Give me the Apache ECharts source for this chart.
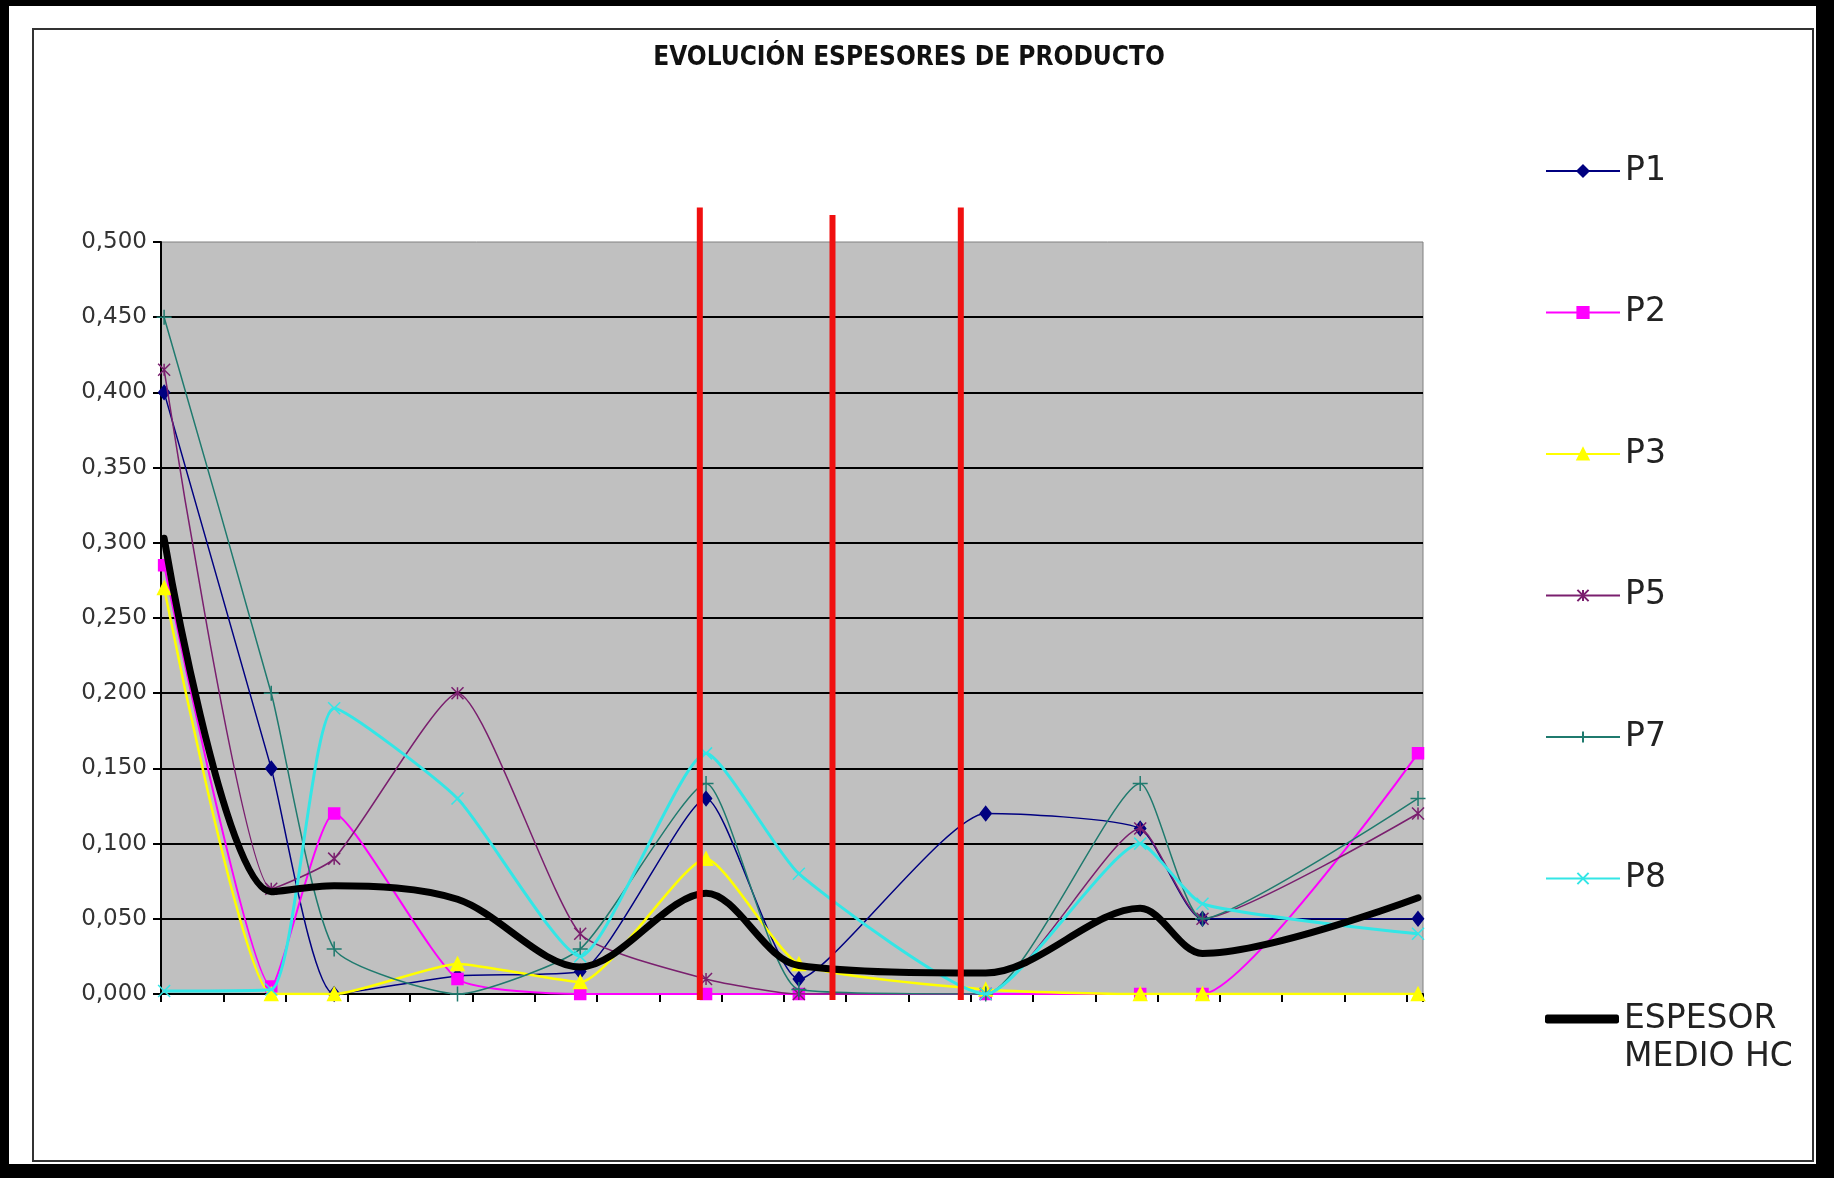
<!DOCTYPE html>
<html><head><meta charset="utf-8">
<script src="https://cdn.jsdelivr.net/npm/echarts@6/dist/echarts.min.js"></script>
<style>html,body{margin:0;padding:0;background:#000;} #c{width:1834px;height:1178px;}</style>
</head><body><div id="c"></div>
<script>
const chartTitle = 'EVOLUCIÓN ESPESORES DE PRODUCTO';
// x positions of the measurement campaigns (in axis tick units)
const xPositions = [0.05, 1.77, 2.78, 4.76, 6.73, 8.75, 10.24, 13.24, 15.72, 16.72, 20.18];
const P1 = [0.400, 0.150, 0.000, 0.012, 0.015, 0.130, 0.010, 0.120, 0.110, 0.050, 0.050];
const P2 = [0.285, 0.005, 0.120, 0.010, 0.000, 0.000, 0.000, 0.000, 0.000, 0.000, 0.160];
const P3 = [0.270, 0.000, 0.000, 0.020, 0.008, 0.090, 0.020, 0.003, 0.000, 0.000, 0.000];
const P5 = [0.415, 0.070, 0.090, 0.200, 0.040, 0.010, 0.000, 0.000, 0.110, 0.050, 0.120];
const P7 = [0.450, 0.200, 0.030, 0.000, 0.030, 0.140, 0.003, 0.000, 0.140, 0.050, 0.130];
const P8 = [0.002, 0.003, 0.190, 0.130, 0.025, 0.160, 0.080, 0.000, 0.100, 0.060, 0.040];
const espesorMedio = [0.303, 0.068, 0.072, 0.063, 0.018, 0.067, 0.019, 0.014, 0.057, 0.027, 0.064];
const redLinesX = [8.65, 10.78, 12.84];
const redLinesTop = [0.523, 0.518, 0.523];
const redLinesBottom = -0.004;
const yMin = 0, yMax = 0.5, yInterval = 0.05;
const xMin = 0, xMax = 20.26, xInterval = 1;
const seriesNames = ['P1', 'P2', 'P3', 'P5', 'P7', 'P8'];
const meanName = 'ESPESOR MEDIO HC';
const meanLegendLines = ['ESPESOR', 'MEDIO HC'];

const pts = arr => arr.map((v, i) => [xPositions[i], v]);
const sym = {
  asterisk: 'path://M0,-1L0,1M-1,-1L1,1M-1,1L1,-1',
  plus: 'path://M0,-1L0,1M-1,0L1,0',
  cross: 'path://M-1,-1L1,1M-1,1L1,-1'
};
const styles = [
  {data: P1, color: '#000080', width: 1.5, symbol: 'diamond', size: [11, 14]},
  {data: P2, color: '#ff00ff', width: 2, symbol: 'rect', size: 11},
  {data: P3, color: '#ffff00', width: 2.5, symbol: 'triangle', size: 13},
  {data: P5, color: '#7a1f6e', width: 1.5, symbol: sym.asterisk, size: 12},
  {data: P7, color: '#1f7a6e', width: 1.5, symbol: sym.plus, size: 15},
  {data: P8, color: '#33e6e6', width: 3, symbol: sym.cross, size: 12}
];

const series = styles.map((s, i) => ({
  name: seriesNames[i], type: 'line', data: pts(s.data), smooth: 0.18,
  symbol: s.symbol, symbolSize: s.size, showSymbol: true,
  lineStyle: {color: s.color, width: s.width},
  itemStyle: {color: s.color, borderColor: s.color, borderWidth: 1.5},
  z: 2 + i, animation: false
}));
series.push({
  name: meanName, type: 'line', data: pts(espesorMedio), smooth: 0.32,
  symbol: 'none', lineStyle: {color: '#000', width: 7, cap: 'round', join: 'round'},
  itemStyle: {color: '#000'}, z: 10, animation: false
});
redLinesX.forEach((x, i) => {
  series.push({
    name: 'red' + i, type: 'line', data: [[x, redLinesBottom], [x, redLinesTop[i]]],
    symbol: 'none', clip: false, silent: true,
    lineStyle: {color: '#f01010', width: 6}, z: 20, animation: false
  });
});

const chart = echarts.init(document.getElementById('c'), null, {renderer: 'canvas'});
chart.setOption({
  backgroundColor: 'transparent',
  animation: false,
  graphic: [
    {type: 'rect', shape: {x: 9, y: 6, width: 1807, height: 1158}, style: {fill: '#fff'}, z: -10, silent: true},
    {type: 'rect', shape: {x: 33, y: 29, width: 1780, height: 1132}, style: {fill: 'none', stroke: '#333', lineWidth: 2}, z: -9, silent: true}
  ],
  title: {
    text: chartTitle, left: 904, top: 40, textAlign: 'center',
    textStyle: {fontFamily: "'DejaVu Sans Condensed', 'Liberation Sans Narrow', sans-serif", fontWeight: 'bold', fontSize: 26, color: '#111'}
  },
  legend: [
    {
      data: seriesNames, orient: 'vertical', left: 1540, top: 147,
      itemWidth: 74, itemHeight: 14, itemGap: 103.5,
      textStyle: {fontFamily: "'DejaVu Sans', sans-serif", fontSize: 33, color: '#222', lineHeight: 38}
    },
    {
      data: [{name: meanName, icon: 'roundRect'}], orient: 'vertical', left: 1540, top: 957,
      itemWidth: 74, itemHeight: 9,
      formatter: () => '\u00a0\n' + meanLegendLines.join('\n'),
      textStyle: {fontFamily: "'DejaVu Sans', sans-serif", fontSize: 33, color: '#222', lineHeight: 38}
    }
  ],
  grid: {left: 161, top: 242, width: 1262, height: 752, show: true, backgroundColor: '#c0c0c0', borderColor: '#808080', borderWidth: 1},
  xAxis: {
    type: 'value', min: xMin, max: xMax, interval: xInterval,
    axisLine: {show: true, onZero: false, lineStyle: {color: '#000', width: 2}},
    axisTick: {show: true, inside: false, length: 8, lineStyle: {color: '#000', width: 2}},
    axisLabel: {show: false}, splitLine: {show: false}
  },
  yAxis: {
    type: 'value', min: yMin, max: yMax, interval: yInterval,
    axisLine: {show: true, lineStyle: {color: '#000', width: 2}},
    axisTick: {show: true, inside: false, length: 8, lineStyle: {color: '#000', width: 2}},
    axisLabel: {margin: 14, fontFamily: "'DejaVu Sans', sans-serif", fontSize: 23, color: '#333',
      formatter: v => v.toFixed(3).replace('.', ',')},
    splitLine: {show: true, showMinLine: false, showMaxLine: false, lineStyle: {color: '#000', width: 2}}
  },
  series: series
});
</script></body></html>
